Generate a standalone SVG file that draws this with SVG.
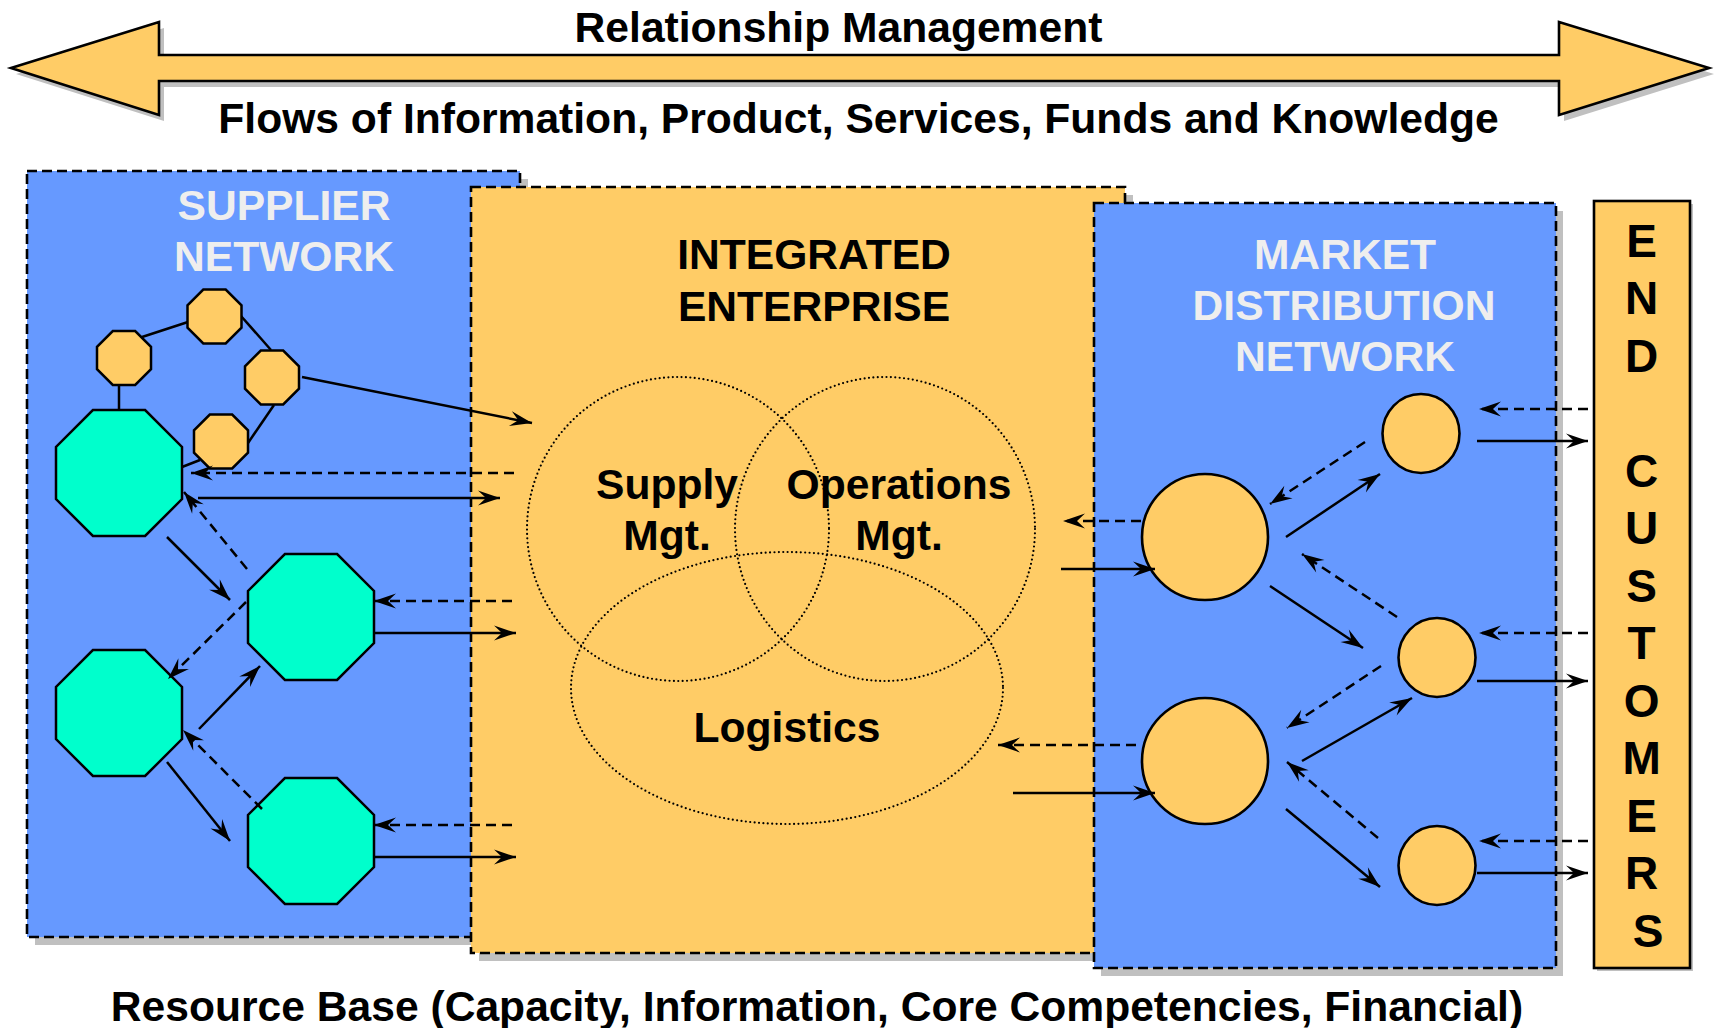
<svg xmlns="http://www.w3.org/2000/svg" width="1715" height="1028" viewBox="0 0 1715 1028">
<defs>
<style>
.t{font-family:"Liberation Sans",Arial,Helvetica,sans-serif;font-weight:bold;font-size:42.6px;text-anchor:middle;fill:#000}
.w{fill:#EEEEEE}
.ec{font-size:46px}
.box{stroke:#000;stroke-width:2.6;stroke-dasharray:10 5}
.blue{fill:#6699FF}
.org{fill:#FFCC66}
.sh{fill:#C0C0C0}
.oct{stroke:#000;stroke-width:2.5}
.grn{fill:#00FFCC}
.circ{fill:#FFCC66;stroke:#000;stroke-width:2.6}
.venn{fill:none;stroke:#000;stroke-width:2.2;stroke-dasharray:0 4.4;stroke-linecap:round}
.c{fill:none;stroke:#000;stroke-width:2.5;marker-end:url(#ah)}
.d{stroke-dasharray:10 6}
.ln{fill:none;stroke:#000;stroke-width:2.5}
</style>
<marker id="ah" markerUnits="userSpaceOnUse" markerWidth="24" markerHeight="18" refX="22" refY="8" orient="auto" overflow="visible">
<path d="M22,8 L0,0.5 L8,8 L0,15.5 Z" fill="#000"/>
</marker>
</defs>

<!-- Top arrow -->
<g id="relationship-arrow">
<polygon class="sh" points="16,74 164,28 164,61 1564,61 1564,28 1714,74 1564,121 1564,87 164,87 164,121"/>
<polygon fill="#FFCC66" stroke="#000" stroke-width="2.6" points="11,68 159,22 159,55 1559,55 1559,22 1709,68 1559,115 1559,81 159,81 159,115"/>
<text class="t" x="838.5" y="42">Relationship Management</text>
<text class="t" x="858.5" y="133">Flows of Information, Product, Services, Funds and Knowledge</text>
</g>

<!-- Supplier network box -->
<g id="supplier-network">
<rect class="sh" x="35" y="179" width="493" height="766"/>
<rect class="box blue" x="27" y="171" width="493" height="766"/>
<text class="t w" x="284" y="220">SUPPLIER</text>
<text class="t w" x="284" y="271">NETWORK</text>
</g>

<!-- Integrated enterprise box -->
<g id="integrated-enterprise">
<rect class="sh" x="479" y="195" width="654" height="766"/>
<rect class="box org" x="471" y="187" width="654" height="766"/>
<text class="t" x="814" y="269">INTEGRATED</text>
<text class="t" x="814" y="321">ENTERPRISE</text>
</g>

<!-- Market distribution box -->
<g id="market-distribution-network">
<rect class="sh" x="1101" y="211" width="462" height="765"/>
<rect class="box blue" x="1094" y="203" width="462" height="765"/>
<text class="t w" x="1345" y="269">MARKET</text>
<text class="t w" x="1344" y="320">DISTRIBUTION</text>
<text class="t w" x="1345" y="371">NETWORK</text>
</g>

<!-- End customers -->
<g id="end-customers">
<rect class="sh" x="1597" y="204" width="96" height="767"/>
<rect fill="#FFCC66" stroke="#000" stroke-width="2.6" x="1594" y="201" width="96" height="767"/>
<text class="t ec">
<tspan x="1648" y="256.5">E</tspan>
<tspan x="1648" y="314">N</tspan>
<tspan x="1648" y="371.5">D</tspan>
<tspan x="1648" y="486.5">C</tspan>
<tspan x="1648" y="544">U</tspan>
<tspan x="1648" y="601.5">S</tspan>
<tspan x="1648" y="659">T</tspan>
<tspan x="1648" y="716.5">O</tspan>
<tspan x="1648" y="774">M</tspan>
<tspan x="1648" y="831.5">E</tspan>
<tspan x="1648" y="889">R</tspan>
<tspan x="1648" y="946.5">S</tspan>
</text>
</g>

<!-- Venn diagram -->
<g id="supply-mgt">
<ellipse class="venn" cx="678" cy="529" rx="151" ry="152"/>
<text class="t" x="667" y="499">Supply</text>
<text class="t" x="667" y="550">Mgt.</text>
</g>
<g id="operations-mgt">
<ellipse class="venn" cx="885" cy="529" rx="150" ry="152"/>
<text class="t" x="899" y="499">Operations</text>
<text class="t" x="899" y="550">Mgt.</text>
</g>
<g id="logistics">
<ellipse class="venn" cx="787" cy="688" rx="216" ry="136"/>
<text class="t" x="787" y="742">Logistics</text>
</g>

<!-- Supplier links (undirected) -->
<g id="supplier-links">
<line class="ln" x1="142" y1="337" x2="188" y2="322"/>
<line class="ln" x1="241" y1="316" x2="271" y2="350"/>
<line class="ln" x1="274" y1="405" x2="248" y2="443"/>
<line class="ln" x1="200" y1="460" x2="182" y2="467"/>
<line class="ln" x1="119" y1="385" x2="119" y2="410"/>
</g>

<!-- Small supplier octagons -->
<g id="sup-small-1" transform="translate(124,358)"><polygon class="oct org" points="-11.2,-27 11.2,-27 27,-11.2 27,11.2 11.2,27 -11.2,27 -27,11.2 -27,-11.2"/></g>
<g id="sup-small-2" transform="translate(214.5,316.5)"><polygon class="oct org" points="-11.2,-27 11.2,-27 27,-11.2 27,11.2 11.2,27 -11.2,27 -27,11.2 -27,-11.2"/></g>
<g id="sup-small-3" transform="translate(272,377.5)"><polygon class="oct org" points="-11.2,-27 11.2,-27 27,-11.2 27,11.2 11.2,27 -11.2,27 -27,11.2 -27,-11.2"/></g>
<g id="sup-small-4" transform="translate(221,441.5)"><polygon class="oct org" points="-11.2,-27 11.2,-27 27,-11.2 27,11.2 11.2,27 -11.2,27 -27,11.2 -27,-11.2"/></g>

<!-- Large supplier octagons -->
<g id="sup-large-a" transform="translate(119,473)"><polygon class="oct grn" points="-26.1,-63 26.1,-63 63,-26.1 63,26.1 26.1,63 -26.1,63 -63,26.1 -63,-26.1"/></g>
<g id="sup-large-b" transform="translate(311,617)"><polygon class="oct grn" points="-26.1,-63 26.1,-63 63,-26.1 63,26.1 26.1,63 -26.1,63 -63,26.1 -63,-26.1"/></g>
<g id="sup-large-c" transform="translate(119,713)"><polygon class="oct grn" points="-26.1,-63 26.1,-63 63,-26.1 63,26.1 26.1,63 -26.1,63 -63,26.1 -63,-26.1"/></g>
<g id="sup-large-d" transform="translate(311,841)"><polygon class="oct grn" points="-26.1,-63 26.1,-63 63,-26.1 63,26.1 26.1,63 -26.1,63 -63,26.1 -63,-26.1"/></g>

<!-- Market circles -->
<g id="mkt-large-1"><circle class="circ" cx="1205" cy="537" r="63"/></g>
<g id="mkt-large-2"><circle class="circ" cx="1205" cy="761" r="63"/></g>
<g id="mkt-small-1"><ellipse class="circ" cx="1421" cy="433.5" rx="38.5" ry="39.5"/></g>
<g id="mkt-small-2"><ellipse class="circ" cx="1437" cy="657.5" rx="38.5" ry="39.5"/></g>
<g id="mkt-small-3"><ellipse class="circ" cx="1437" cy="865.5" rx="38.5" ry="39.5"/></g>

<!-- Connectors -->
<g id="connectors">
<line class="c" x1="302" y1="377" x2="532" y2="423"/>
<line class="c d" x1="514" y1="473" x2="191" y2="473"/>
<line class="c" x1="198" y1="498" x2="500" y2="498"/>
<line class="c" x1="167" y1="537" x2="230" y2="600"/>
<line class="c d" x1="247" y1="569" x2="184" y2="492"/>
<line class="c d" x1="246" y1="602" x2="168" y2="679"/>
<line class="c" x1="199" y1="729" x2="260" y2="666"/>
<line class="c" x1="167" y1="762" x2="230" y2="841"/>
<line class="c d" x1="262" y1="809" x2="183" y2="730"/>
<line class="c d" x1="512" y1="601" x2="374" y2="601"/>
<line class="c" x1="374" y1="633" x2="516" y2="633"/>
<line class="c d" x1="512" y1="825" x2="374" y2="825"/>
<line class="c" x1="374" y1="857" x2="516" y2="857"/>

<line class="c d" x1="1141" y1="521" x2="1063" y2="521"/>
<line class="c" x1="1061" y1="569" x2="1155" y2="569"/>
<line class="c d" x1="1136" y1="745" x2="998" y2="745"/>
<line class="c" x1="1013" y1="793" x2="1155" y2="793"/>
<line class="c" x1="1286" y1="537" x2="1380" y2="474"/>
<line class="c d" x1="1365" y1="442" x2="1270" y2="504"/>
<line class="c d" x1="1397" y1="617" x2="1302" y2="554"/>
<line class="c" x1="1270" y1="586" x2="1363" y2="648"/>
<line class="c d" x1="1381" y1="666" x2="1287" y2="728"/>
<line class="c" x1="1302" y1="761" x2="1412" y2="698"/>
<line class="c d" x1="1378" y1="838" x2="1287" y2="762"/>
<line class="c" x1="1286" y1="809" x2="1380" y2="887"/>
<line class="c d" x1="1588" y1="409" x2="1479" y2="409"/>
<line class="c" x1="1477" y1="441" x2="1588" y2="441"/>
<line class="c d" x1="1588" y1="633" x2="1479" y2="633"/>
<line class="c" x1="1477" y1="681" x2="1588" y2="681"/>
<line class="c d" x1="1588" y1="841" x2="1479" y2="841"/>
<line class="c" x1="1477" y1="873" x2="1588" y2="873"/>
</g>

<g id="resource-base">
<text class="t" x="817" y="1021">Resource Base (Capacity, Information, Core Competencies, Financial)</text>
</g>
</svg>
